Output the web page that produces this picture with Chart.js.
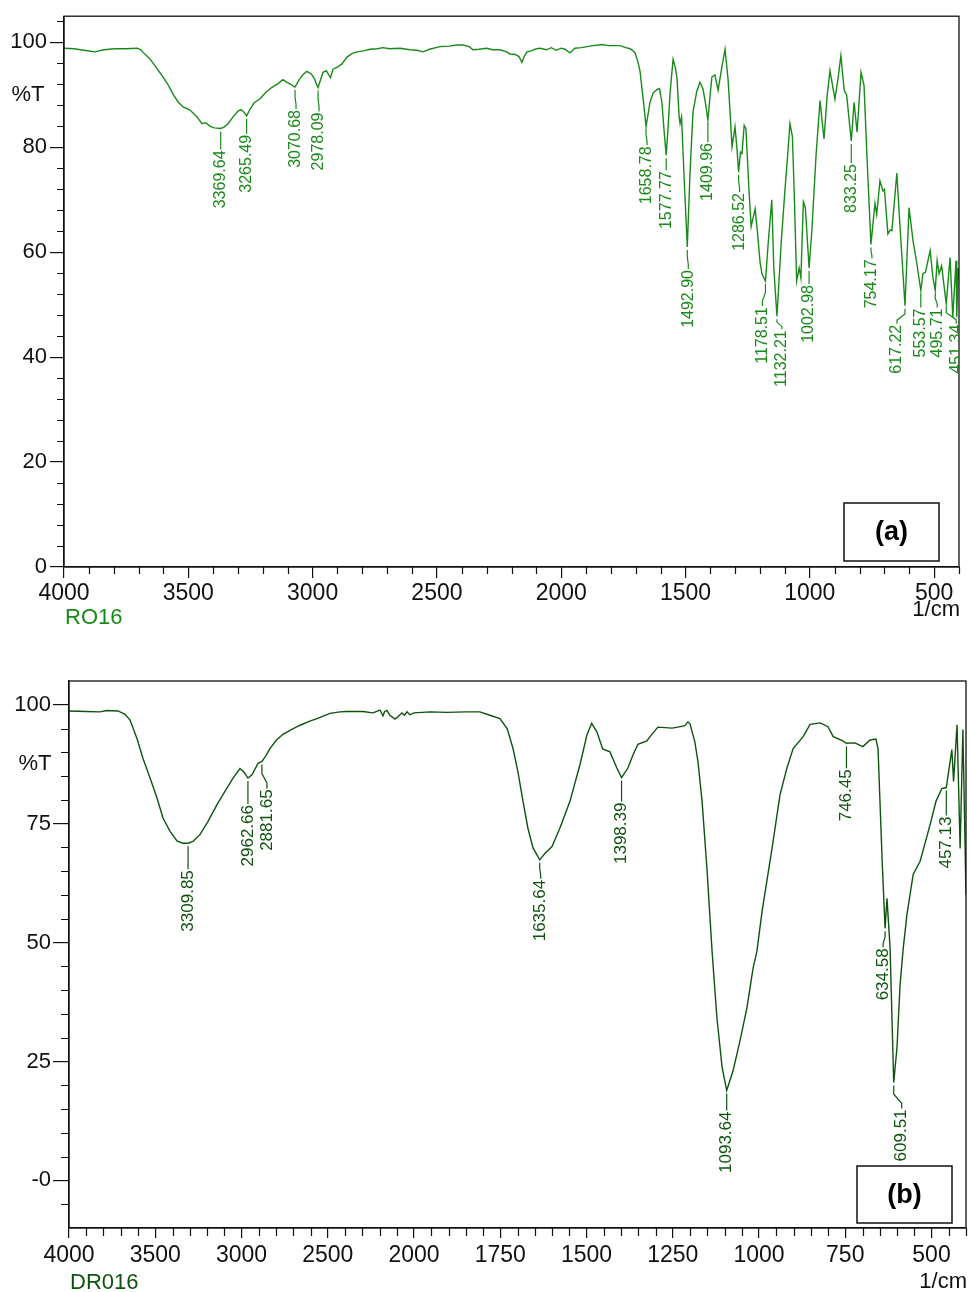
<!DOCTYPE html>
<html>
<head>
<meta charset="utf-8">
<title>FTIR RO16 / DR016</title>
<script src="https://cdn.jsdelivr.net/npm/chart.js@4.4.1/dist/chart.umd.min.js"></script>
<style>
  html, body { margin: 0; padding: 0; background: #fff; }
  #wrap { position: relative; width: 970px; height: 1292px; }
  .pane { position: absolute; left: 0; width: 970px; }
  #paneA { top: 0; height: 640px; }
  #paneB { top: 650px; height: 642px; }
</style>
</head>
<body>
<div id="wrap">
  <div class="pane" id="paneA"><canvas id="chartA" width="970" height="640"></canvas></div>
  <div class="pane" id="paneB"><canvas id="chartB" width="970" height="642"></canvas></div>
</div>
<script>
// --- RO16 spectrum (1/cm, %T) ---
const roWave = [4000, 3960, 3920, 3875, 3840, 3795, 3750, 3706, 3690, 3682, 3655, 3626, 3600, 3580, 3560, 3540, 3521, 3493, 3465, 3445,
  3430, 3412, 3395, 3369.64, 3355, 3340, 3320, 3300, 3288, 3276, 3265.49, 3250, 3235, 3212, 3190, 3165, 3140, 3120, 3103, 3088,
  3070.68, 3055, 3040, 3023, 3005, 2992, 2984, 2978.09, 2970, 2958, 2945, 2935, 2928, 2918, 2900, 2882, 2862, 2840, 2822, 2795,
  2769, 2740, 2717, 2690, 2648, 2610, 2580, 2556, 2530, 2488, 2450, 2420, 2395, 2370, 2355, 2330, 2300, 2275, 2246, 2220,
  2206, 2185, 2170, 2158, 2148, 2138, 2120, 2100, 2085, 2060, 2040, 2020, 2000, 1985, 1965, 1945, 1920, 1895, 1872, 1850,
  1836, 1810, 1790, 1764, 1740, 1723, 1711, 1703, 1691, 1683, 1670, 1658.78, 1650, 1643, 1630, 1615, 1605, 1595, 1586, 1577.77,
  1570, 1562, 1550, 1540, 1534, 1526, 1522, 1516, 1505, 1492.90, 1482, 1470, 1455, 1442, 1430, 1420, 1409.96, 1400, 1394, 1382,
  1369, 1355, 1341, 1329, 1320, 1313, 1301, 1293, 1286.52, 1279, 1273, 1264, 1257, 1245, 1236, 1220, 1212, 1200, 1192, 1178.51,
  1167, 1153, 1145, 1132.21, 1115, 1100, 1090, 1080, 1070, 1062, 1053, 1043, 1036, 1026, 1018, 1002.98, 992, 975, 959, 943,
  930, 919, 899, 887, 875, 862, 852, 833.25, 822, 810, 794, 782, 770, 754.17, 738, 731, 718, 706, 700, 686,
  676, 670, 650, 640, 617.22, 601, 585, 570, 553.57, 545, 535, 516, 505, 495.71, 488, 480, 470, 451.34, 436, 425,
  412, 409, 403, 400];
const roT = [98.9, 98.8, 98.5, 98.2, 98.6, 98.8, 98.8, 98.9, 98.6, 98.1, 96.9, 95.0, 93.3, 91.8, 90.0, 88.6, 87.7, 87.1, 85.8, 84.5,
  84.7, 84.0, 83.7, 83.6, 83.9, 84.5, 85.8, 86.9, 87.2, 86.7, 86.0, 87.4, 88.5, 89.2, 90.4, 91.4, 92.1, 92.9, 92.4, 92.0,
  91.5, 92.8, 93.8, 94.5, 94.0, 93.0, 92.0, 91.4, 92.6, 94.3, 94.6, 93.8, 93.3, 94.9, 95.3, 95.9, 97.2, 97.9, 98.2, 98.4,
  98.7, 98.8, 99.0, 98.8, 98.9, 98.6, 98.5, 98.2, 98.7, 99.2, 99.3, 99.5, 99.5, 99.2, 98.6, 98.7, 98.9, 98.6, 98.6, 98.2,
  97.8, 97.7, 97.3, 96.2, 97.4, 98.2, 98.4, 98.8, 98.9, 98.6, 99.0, 98.5, 98.9, 98.7, 98.0, 98.9, 99.0, 99.2, 99.4, 99.5,
  99.6, 99.4, 99.4, 99.4, 99.0, 98.8, 98.4, 98.0, 96.2, 94.5, 89.0, 84.0, 86.5, 88.6, 90.4, 91.0, 91.2, 88.6, 83.0, 78.5,
  84.0, 90.5, 96.8, 95.0, 93.0, 86.0, 84.5, 85.8, 73.5, 61.0, 75.0, 86.7, 90.6, 92.4, 91.2, 88.5, 85.2, 90.5, 93.4, 93.8,
  90.9, 95.0, 98.7, 93.0, 86.0, 80.1, 83.9, 79.7, 75.3, 79.1, 78.8, 84.2, 83.5, 72.0, 64.9, 68.3, 64.5, 58.0, 55.8, 54.5,
  62.0, 70.0, 57.0, 47.8, 62.0, 71.9, 78.0, 84.5, 82.0, 70.0, 54.5, 57.0, 55.1, 69.6, 68.5, 57.0, 64.0, 78.5, 88.9, 81.6,
  90.0, 94.6, 89.2, 93.0, 97.5, 90.9, 90.0, 81.2, 88.6, 82.9, 94.3, 91.8, 78.0, 61.5, 69.3, 67.2, 73.6, 71.7, 72.0, 63.5,
  64.3, 64.1, 75.1, 67.0, 49.8, 68.5, 62.2, 58.0, 52.7, 55.9, 56.2, 60.3, 55.2, 52.7, 58.4, 55.9, 57.4, 50.2, 59.0, 47.6,
  58.4, 47.6, 57.0, 55.0];
const roPeaks = [3369.64, 3265.49, 3070.68, 2978.09, 1658.78, 1577.77, 1492.90, 1409.96, 1286.52, 1178.51,
  1132.21, 1002.98, 833.25, 754.17, 617.22, 553.57, 495.71, 451.34];

// --- DR016 spectrum ---
const drWave = [4000, 3900, 3820, 3780, 3716, 3675, 3646, 3606, 3571, 3530, 3490, 3455, 3414, 3374, 3340, 3309.85, 3281, 3241, 3194, 3142,
  3096, 3049, 3009, 2985, 2962.66, 2939, 2904, 2881.65, 2860, 2835, 2800, 2760, 2700, 2661, 2600, 2562, 2487, 2430, 2389, 2296,
  2238, 2197, 2180, 2170, 2157, 2140, 2110, 2090, 2070, 2055, 2041, 2023, 2000, 1953, 1904, 1850, 1809, 1780, 1751, 1730,
  1713, 1699, 1684, 1670, 1655, 1635.64, 1620, 1600, 1577, 1548, 1519, 1499, 1485, 1470, 1453, 1432, 1412, 1398.39, 1380, 1365,
  1351, 1325, 1316, 1293, 1252, 1235, 1215, 1206, 1200, 1186, 1177, 1165, 1151, 1136, 1122, 1107, 1093.64, 1075, 1055, 1035,
  1017, 1006, 991, 962, 939, 919, 901, 872, 852, 823, 800, 785, 757, 746.45, 722, 699, 678, 661, 655, 643,
  634.58, 629, 620, 609.51, 600, 591, 582, 571, 553, 533, 504, 487, 470, 457.13, 441, 436, 426, 417, 409, 400];
const drT = [98.7, 98.6, 98.5, 98.8, 98.7, 98.0, 96.8, 92.9, 88.7, 84.6, 80.4, 76.2, 73.4, 71.4, 70.9, 70.9, 71.3, 72.7, 75.5, 79.0,
  81.8, 84.6, 86.6, 85.8, 84.6, 85.3, 87.7, 88.1, 89.2, 90.8, 92.5, 93.8, 95.0, 95.7, 96.6, 97.1, 98.2, 98.5, 98.6, 98.6,
  98.3, 98.9, 97.7, 98.6, 98.8, 97.8, 97.0, 97.6, 98.3, 97.8, 98.5, 97.9, 98.3, 98.5, 98.4, 98.5, 98.5, 97.8, 97.1, 95.0,
  90.8, 86.0, 79.7, 74.1, 69.9, 67.4, 68.8, 70.2, 74.1, 79.7, 87.4, 93.6, 96.1, 94.3, 90.7, 90.1, 86.7, 84.7, 86.7, 89.5,
  91.7, 92.4, 93.3, 95.3, 95.1, 95.3, 95.6, 96.4, 96.0, 92.2, 88.1, 79.7, 65.7, 48.2, 34.2, 23.8, 18.9, 23.1, 29.4, 36.3,
  44.7, 48.2, 56.6, 69.9, 81.1, 86.7, 90.8, 93.3, 95.9, 96.2, 95.4, 93.3, 92.4, 91.9, 92.0, 91.2, 92.6, 92.8, 90.8, 67.1,
  53.0, 59.3, 48.8, 20.6, 28.0, 41.2, 48.8, 56.0, 64.4, 67.1, 74.8, 79.7, 82.4, 82.6, 90.6, 83.9, 95.8, 69.8, 94.8, 60.0];
const drPeaks = [3309.85, 2962.66, 2881.65, 1635.64, 1398.39, 1093.64, 746.45, 634.58, 609.51, 457.13];

// tick labels
const roXTicks = [4000, 3500, 3000, 2500, 2000, 1500, 1000, 500];
const roYTicks = [0, 20, 40, 60, 80, 100];
const drXTicks = [4000, 3500, 3000, 2500, 2000, 1750, 1500, 1250, 1000, 750, 500];
const drYTicks = [0, 25, 50, 75, 100];

// leader/label placement for the peak labels: [x shift, drop below peak] in px
const roPlace = [[0, 21], [0, 18], [1, 22], [1, 24], [1, 19], [0, 15], [1, 22], [0, 22], [1, 20], [-3, 25],
  [5, 13], [0, 16], [0, 22], [1, 14], [-8, 18], [0, 17], [2, 17], [10, 20]];
const drPlace = [[0, 26], [0, 26], [5, 27], [1, 19], [0, 24], [0, 20], [0, 25], [-2, 19], [8, 26], [0, 28]];

// x axis that is twice as wide per 1/cm below 2000 than above it
const SPLIT = 2000;
const fold = w => (w <= SPLIT ? w : SPLIT + (w - SPLIT) / 2);
const unfold = u => (u <= SPLIT ? u : SPLIT + (u - SPLIT) * 2);

class SplitWaveScale extends Chart.LinearScale {
  getPixelForValue(value) {
    const a = fold(this.min), b = fold(this.max);
    return this.getPixelForDecimal((fold(value) - a) / (b - a));
  }
  getValueForPixel(pixel) {
    const a = fold(this.min), b = fold(this.max);
    return unfold(a + this.getDecimalForPixel(pixel) * (b - a));
  }
}
SplitWaveScale.id = 'splitWave';
SplitWaveScale.defaults = { ticks: { callback: v => String(v) } };
Chart.register(SplitWaveScale);

const FONT = '"Liberation Sans", Arial, sans-serif';

// frame, minor ticks, peak labels and captions
const spectrumDecor = {
  id: 'spectrumDecor',
  afterDraw(chart, args, o) {
    const ctx = chart.ctx;
    const area = chart.chartArea;
    const xs = chart.scales.x, ys = chart.scales.y;
    ctx.save();

    // frame
    ctx.strokeStyle = '#111';
    ctx.lineWidth = 1.3;
    ctx.strokeRect(area.left, area.top, area.right - area.left, area.bottom - area.top);

    // minor ticks
    ctx.lineWidth = 1.2;
    ctx.beginPath();
    o.xMinor.forEach(w => {
      const x = Math.round(xs.getPixelForValue(w)) + 0.5;
      ctx.moveTo(x, area.bottom);
      ctx.lineTo(x, area.bottom + o.minorLen);
    });
    o.yMinor.forEach(v => {
      const y = Math.round(ys.getPixelForValue(v)) + 0.5;
      ctx.moveTo(area.left, y);
      ctx.lineTo(area.left - o.minorLen, y);
    });
    ctx.stroke();

    // peak labels
    ctx.save();
    ctx.beginPath();
    ctx.rect(area.left, area.top, area.right - area.left, area.bottom - area.top);
    ctx.clip();
    ctx.strokeStyle = o.color;
    ctx.fillStyle = o.color;
    ctx.lineWidth = 1.2;
    ctx.font = o.peakFont;
    o.peaks.forEach((w, i) => {
      const t = o.t[o.wave.indexOf(w)];
      const px = xs.getPixelForValue(w);
      const py = ys.getPixelForValue(t);
      const [dx, gap] = o.place[i];
      ctx.beginPath();
      ctx.moveTo(px, py + 3);
      if (dx === 0) {
        ctx.lineTo(px, py + gap);
      } else {
        ctx.lineTo(px, py + gap * 0.45);
        ctx.lineTo(px + dx, py + gap * 0.8);
        ctx.lineTo(px + dx, py + gap);
      }
      ctx.stroke();
      ctx.save();
      ctx.translate(px + dx, py + gap + 1);
      ctx.rotate(-Math.PI / 2);
      ctx.textAlign = 'right';
      ctx.textBaseline = 'middle';
      ctx.fillText(w.toFixed(2), 0, 0);
      ctx.restore();
    });
    ctx.restore();

    // %T, sample name, unit
    ctx.fillStyle = '#111';
    ctx.font = '22px ' + FONT;
    ctx.textAlign = 'center';
    ctx.textBaseline = 'middle';
    ctx.fillText('%T', area.left - o.pctDx, ys.getPixelForValue(o.pctAt));
    ctx.textAlign = 'right';
    ctx.textBaseline = 'alphabetic';
    ctx.fillText('1/cm', area.right + 1, area.bottom + o.unitDy);
    ctx.fillStyle = o.color;
    ctx.textAlign = 'left';
    ctx.fillText(o.name, area.left + 1, area.bottom + o.nameDy);

    // panel letter box
    const bx = area.right - o.box.right, by = area.bottom - o.box.bottom;
    ctx.strokeStyle = '#111';
    ctx.lineWidth = 1.5;
    ctx.strokeRect(bx, by, o.box.w, o.box.h);
    ctx.fillStyle = '#000';
    ctx.font = 'bold 27px ' + FONT;
    ctx.textAlign = 'center';
    ctx.textBaseline = 'middle';
    ctx.fillText(o.letter, bx + o.box.w / 2, by + o.box.h / 2 + 1);

    ctx.restore();
  }
};

function range(from, to, step) {
  const out = [];
  for (let v = from; v >= to - 1e-9; v -= step) out.push(Math.round(v * 100) / 100);
  return out;
}

function makeSpectrum(canvasId, cfg) {
  new Chart(document.getElementById(canvasId), {
    type: 'line',
    data: {
      datasets: [{
        data: cfg.wave.map((w, i) => ({ x: w, y: cfg.t[i] })),
        borderColor: cfg.color,
        borderWidth: 1.4,
        pointRadius: 0,
        tension: 0,
        fill: false
      }]
    },
    options: {
      responsive: false,
      animation: false,
      devicePixelRatio: 1,
      layout: { padding: cfg.padding },
      plugins: {
        legend: { display: false },
        tooltip: { enabled: false },
        spectrumDecor: cfg.decor
      },
      scales: {
        x: {
          type: cfg.xType,
          reverse: true,
          min: 400,
          max: 4000,
          afterBuildTicks: s => { s.ticks = cfg.xTicks.map(v => ({ value: v })); },
          afterFit: s => { s.height = cfg.xHeight; },
          grid: { display: true, drawOnChartArea: false, drawTicks: true, tickLength: cfg.xTickLen, color: '#111', tickColor: '#111', lineWidth: 1.2 },
          border: { display: true, color: '#111', width: 1.3 },
          ticks: {
            autoSkip: false, maxRotation: 0, minRotation: 0, padding: cfg.xPad,
            color: '#111', font: { family: FONT, size: 23 },
            callback: v => String(v)
          }
        },
        y: {
          min: cfg.yMin,
          max: 105,
          afterBuildTicks: s => { s.ticks = cfg.yTicks.map(v => ({ value: v })); },
          afterFit: s => { s.width = cfg.yWidth; },
          grid: { display: true, drawOnChartArea: false, drawTicks: true, tickLength: cfg.yTickLen, color: '#111', tickColor: '#111', lineWidth: 1.2 },
          border: { display: true, color: '#111', width: 1.3 },
          ticks: {
            autoSkip: false, padding: cfg.yPad, color: '#111', font: { family: FONT, size: 22 },
            callback: v => (v === 0 && cfg.yMin < 0 ? '-0' : String(v))
          }
        }
      }
    },
    plugins: [spectrumDecor]
  });
}

const roColor = '#188a18';
const drColor = '#0d530d';

makeSpectrum('chartA', {
  wave: roWave, t: roT, color: roColor, xType: 'linear',
  xTicks: roXTicks, yTicks: roYTicks, yMin: 0,
  padding: { top: 14, right: 11, left: 0, bottom: 0 },
  xHeight: 73, yWidth: 64, xTickLen: 11, yTickLen: 14, xPad: 2, yPad: 3,
  decor: {
    wave: roWave, t: roT, peaks: roPeaks, place: roPlace, color: roColor,
    peakFont: '16px ' + FONT,
    xMinor: range(4000, 400, 100).filter(w => !roXTicks.includes(w)),
    yMinor: range(104, 0, 4).filter(v => !roYTicks.includes(v)),
    minorLen: 7, pctDx: 36, pctAt: 90, unitDy: 49, nameDy: 57,
    name: 'RO16', letter: '(a)',
    box: { right: 115, bottom: 64, w: 95, h: 58 }
  }
});

makeSpectrum('chartB', {
  wave: drWave, t: drT, color: drColor, xType: 'splitWave',
  xTicks: drXTicks, yTicks: drYTicks, yMin: -10,
  padding: { top: 31, right: 4, left: 0, bottom: 0 },
  xHeight: 64, yWidth: 69, xTickLen: 10, yTickLen: 16, xPad: 4, yPad: 2,
  decor: {
    wave: drWave, t: drT, peaks: drPeaks, place: drPlace, color: drColor,
    peakFont: '17px ' + FONT,
    xMinor: range(4000, 2000, 100).concat(range(1950, 400, 50)).filter(w => !drXTicks.includes(w)),
    yMinor: range(100, -5, 5).filter(v => !drYTicks.includes(v)),
    minorLen: 8, pctDx: 34, pctAt: 87.5, unitDy: 60, nameDy: 61,
    name: 'DR016', letter: '(b)',
    box: { right: 109, bottom: 62, w: 95, h: 57 }
  }
});
</script>
</body>
</html>
